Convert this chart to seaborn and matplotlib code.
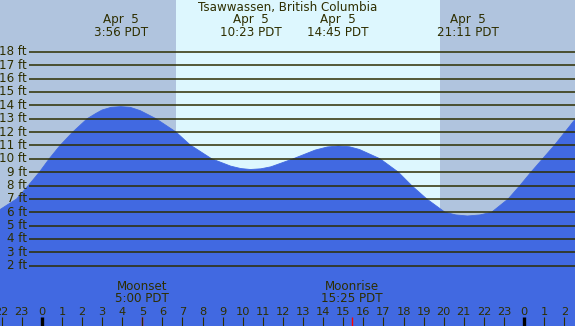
import matplotlib
matplotlib.use("Agg")
import matplotlib.pyplot as plt
import matplotlib.transforms as mtransforms
import seaborn as sns
import pandas as pd

# ---- data ----
title = "Tsawwassen, British Columbia"
tide_hours = [-2.08, -1.25, -0.67, -0.12, 0.37, 0.91, 1.54, 2.26, 2.7, 3.0, 3.45,
              3.93, 4.4, 4.9, 5.68, 6.68, 7.37, 8.45, 9.4, 9.9, 10.38, 10.9, 11.4,
              12.51, 13.6, 14.2, 14.75, 15.3, 15.8, 16.83, 17.74, 18.40, 19.15,
              20.06, 20.6, 21.18, 21.8, 22.38, 23.21, 23.79, 24.34, 24.92, 25.50,
              26.03, 26.48, 26.53]
tide_ft = [6.2, 7.0, 8.0, 9.0, 10.0, 11.0, 12.0, 13.0, 13.4, 13.65, 13.85,
           13.9, 13.85, 13.6, 13.0, 12.0, 11.05, 10.0, 9.45, 9.27, 9.2, 9.25, 9.4,
           10.0, 10.65, 10.88, 10.96, 10.9, 10.7, 10.0, 9.0, 8.0, 7.0,
           6.0, 5.8, 5.72, 5.8, 6.0, 7.0, 8.0, 9.0, 10.0, 11.0,
           12.0, 12.85, 12.9]

extreme_times = [3.93, 10.38, 14.75, 21.18]
extreme_labels = ["3:56 PDT", "10:23 PDT", "14:45 PDT", "21:11 PDT"]
extreme_dates = ["Apr  5", "Apr  5", "Apr  5", "Apr  5"]

sunrise_h = 6.68
sunset_h = 19.81

moon_times = [5.0, 15.42]
moon_names = ["Moonset", "Moonrise"]
moon_labels = ["5:00 PDT", "15:25 PDT"]

ft_levels = list(range(2, 19))
hour_ticks = list(range(-2, 27))
midnights = [0, 24]

# ---- style ----
night_c = "#b0c4de"
day_c = "#ddf7fe"
water_c = "#4169e1"
ink = "#2e2e00"
fs = 8.6

sns.set_theme(style="white")
plt.rcParams["font.family"] = ["DejaVu Sans"]

fig = plt.figure(figsize=(5.75, 3.26), dpi=100)
ax = fig.add_axes([0, 0, 1, 1])
x0, x1 = -2.08, 26.53
y0, y1 = -2.51, 21.88

ax.axvspan(x0, sunrise_h, color=night_c, lw=0, zorder=0)
ax.axvspan(sunrise_h, sunset_h, color=day_c, lw=0, zorder=0)
ax.axvspan(sunset_h, x1, color=night_c, lw=0, zorder=0)

df = pd.DataFrame({"hour": tide_hours, "ft": tide_ft})
ax.fill_between(df["hour"], df["ft"], y0 - 5, color=water_c, lw=0, zorder=1)
sns.lineplot(data=df, x="hour", y="ft", color=water_c, lw=0.6, ax=ax, zorder=1,
             sort=False, legend=False)
ax.set_xlim(x0, x1)
ax.set_ylim(y0, y1)
ax.axis("off")

# horizontal foot lines and labels
ax.hlines(ft_levels, -0.64, x1, color=ink, lw=1.1, zorder=2)
for lv in ft_levels:
    ax.text(-0.74, lv, f"{lv} ft", ha="right", va="center", fontsize=fs, color=ink, zorder=3)

trans = mtransforms.blended_transform_factory(ax.transData, ax.transAxes)

# title and extremes
ax.text(0.5 * (x0 + x1), 1 - 8 / 326, title, transform=trans, ha="center",
        va="center", fontsize=fs, color=ink)
for t, d, lab in zip(extreme_times, extreme_dates, extreme_labels):
    ax.text(t, 1 - 20 / 326, d, transform=trans, ha="center", va="center", fontsize=fs, color=ink)
    ax.text(t, 1 - 32 / 326, lab, transform=trans, ha="center", va="center", fontsize=fs, color=ink)

# moon events
for t, n, lab in zip(moon_times, moon_names, moon_labels):
    ax.text(t, 1 - 287 / 326, n, transform=trans, ha="center", va="center", fontsize=fs, color=ink)
    ax.text(t, 1 - 299 / 326, lab, transform=trans, ha="center", va="center", fontsize=fs, color=ink)
    ax.vlines(t, 0, 9 / 326, transform=trans, color="red", lw=1.0, zorder=3)

# hour ticks
for h in hour_ticks:
    ax.text(h, 1 - 312 / 326, str(h % 24), transform=trans, ha="center", va="center",
            fontsize=8.2, color=ink)
    if h in midnights:
        ax.vlines(h, 0, 9 / 326, transform=trans, color="black", lw=2.4, zorder=3)
    else:
        ax.vlines(h, 0, 9 / 326, transform=trans, color=ink, lw=0.8, zorder=3)

fig.savefig("out.png", dpi=100)
